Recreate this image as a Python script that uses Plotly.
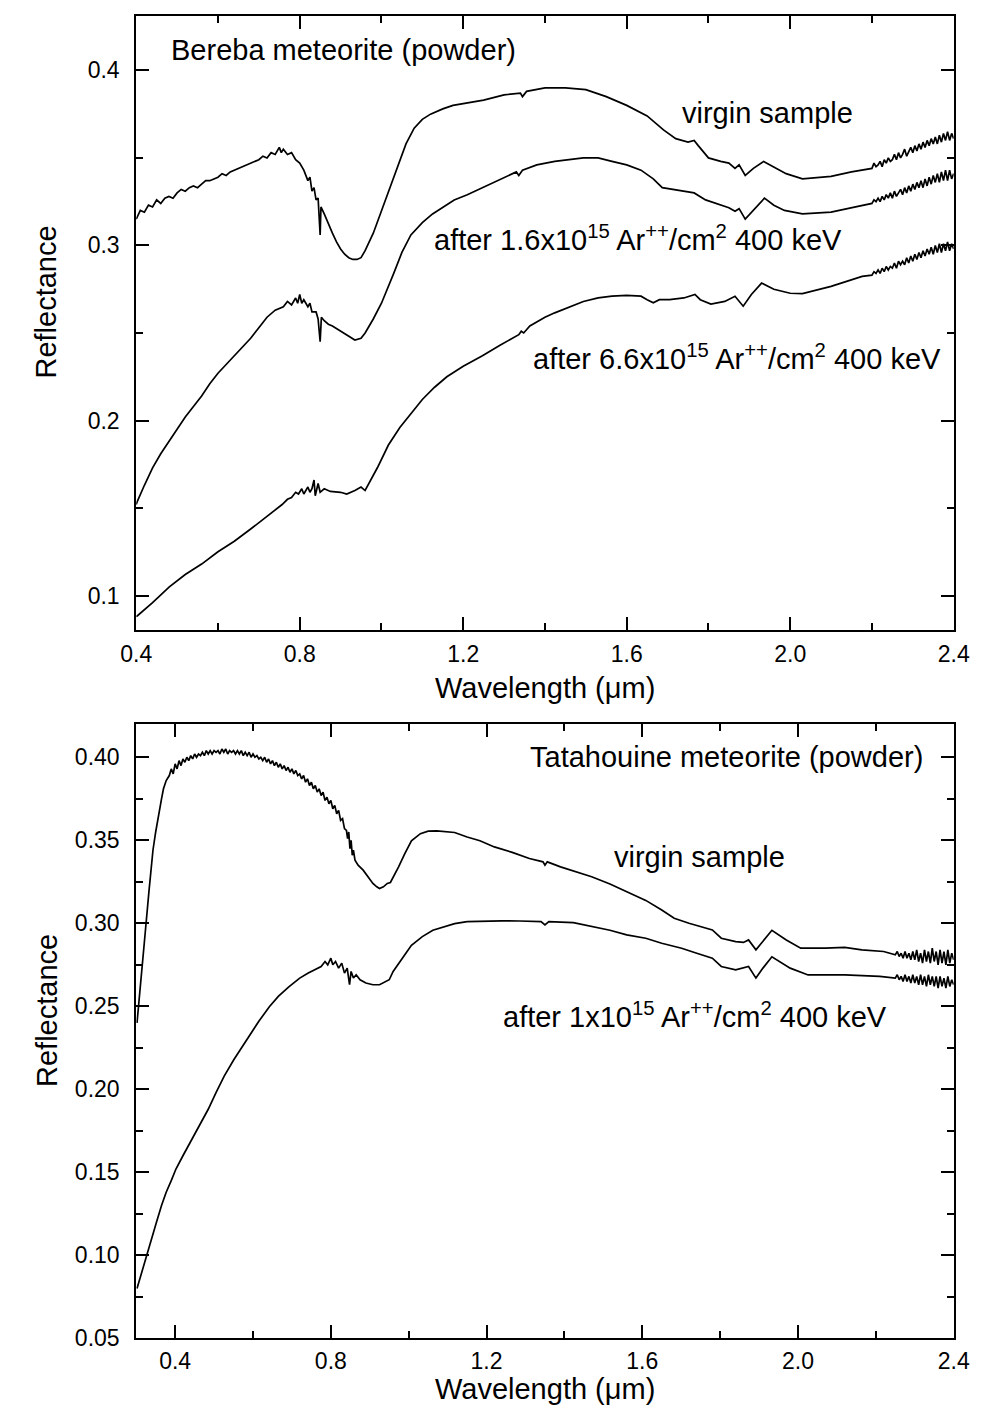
import plotly.graph_objects as go

# ---------------- Bereba meteorite (top panel) ----------------
bx_virgin = [0.400, 0.410, 0.420, 0.430, 0.440, 0.450, 0.460, 0.470, 0.480, 0.490, 0.500, 0.510, 0.520, 0.530,
             0.540, 0.550, 0.560, 0.570, 0.580, 0.590, 0.600, 0.610, 0.620, 0.630, 0.640, 0.650, 0.660, 0.670,
             0.680, 0.690, 0.700, 0.710, 0.720, 0.730, 0.740, 0.750, 0.755, 0.760, 0.770, 0.780,
             0.790, 0.800, 0.810, 0.820, 0.825, 0.830, 0.835, 0.840, 0.845, 0.850, 0.852, 0.860, 0.870, 0.880,
             0.890, 0.900, 0.910, 0.920, 0.930, 0.940, 0.950, 0.960, 0.980, 1.000, 1.020, 1.040, 1.060, 1.080,
             1.100, 1.120, 1.150, 1.175, 1.200, 1.250, 1.300, 1.340, 1.345, 1.355, 1.400, 1.450, 1.500, 1.550,
             1.600, 1.650, 1.690, 1.720, 1.750, 1.765, 1.775, 1.800, 1.830, 1.850, 1.865, 1.875, 1.890, 1.910,
             1.935, 1.960, 1.990, 2.030, 2.100, 2.150,
             2.200, 2.205, 2.210, 2.215, 2.220, 2.225, 2.230, 2.235, 2.240, 2.245, 2.250, 2.255, 2.260, 2.265,
             2.270, 2.275, 2.280, 2.285, 2.290, 2.295, 2.300, 2.305, 2.310, 2.315, 2.320, 2.325, 2.330, 2.335,
             2.340, 2.345, 2.350, 2.355, 2.360, 2.365, 2.370, 2.375, 2.380, 2.385, 2.390, 2.395, 2.400]
by_virgin = [0.315, 0.320, 0.319, 0.323, 0.322, 0.326, 0.324, 0.327, 0.328, 0.327, 0.330, 0.332, 0.331, 0.333,
             0.334, 0.333, 0.335, 0.337, 0.337, 0.338, 0.339, 0.341, 0.340, 0.342, 0.343, 0.344, 0.345, 0.346,
             0.347, 0.348, 0.349, 0.351, 0.350, 0.353, 0.352, 0.356, 0.353, 0.355, 0.352, 0.353,
             0.349, 0.347, 0.343, 0.337, 0.339, 0.331, 0.333, 0.326, 0.327, 0.306, 0.322, 0.318, 0.312, 0.307,
             0.302, 0.298, 0.295, 0.293, 0.292, 0.292, 0.293, 0.297, 0.307, 0.320, 0.333, 0.346, 0.358, 0.367,
             0.372, 0.375, 0.378, 0.380, 0.381, 0.383, 0.386, 0.387, 0.385, 0.388, 0.390, 0.390, 0.389, 0.385,
             0.380, 0.374, 0.366, 0.361, 0.359, 0.360, 0.357, 0.350, 0.348, 0.347, 0.344, 0.346, 0.340, 0.344,
             0.348, 0.345, 0.341, 0.338, 0.3395, 0.342,
             0.344, 0.347, 0.345, 0.346, 0.348, 0.345, 0.349, 0.347, 0.350, 0.348, 0.349, 0.352, 0.349, 0.353,
             0.350, 0.352, 0.355, 0.351, 0.354, 0.356, 0.353, 0.357, 0.354, 0.358, 0.355, 0.359, 0.356, 0.360,
             0.357, 0.361, 0.358, 0.362, 0.358, 0.363, 0.359, 0.364, 0.360, 0.365, 0.360, 0.364, 0.361]

bx_16 = [0.400, 0.403, 0.420, 0.440, 0.460, 0.480, 0.500, 0.520, 0.540, 0.560, 0.580, 0.600, 0.620, 0.640,
         0.660, 0.680, 0.700, 0.720, 0.740, 0.760, 0.770, 0.780, 0.790, 0.795, 0.800, 0.805, 0.810, 0.820,
         0.825, 0.830, 0.840, 0.845, 0.850, 0.853, 0.860, 0.870, 0.880, 0.900, 0.920, 0.935, 0.950, 0.960,
         0.980, 1.000, 1.030, 1.050, 1.072, 1.100, 1.125, 1.150, 1.178, 1.210, 1.247, 1.290, 1.330, 1.336,
         1.345, 1.380, 1.424, 1.494, 1.530, 1.564, 1.600, 1.635, 1.665, 1.687, 1.710, 1.740, 1.765, 1.793,
         1.828, 1.850, 1.865, 1.875, 1.890, 1.910, 1.937, 1.960, 1.986, 2.030, 2.100, 2.160,
         2.200, 2.205, 2.210, 2.215, 2.220, 2.225, 2.230, 2.235, 2.240, 2.245, 2.250, 2.255, 2.260, 2.265,
         2.270, 2.275, 2.280, 2.285, 2.290, 2.295, 2.300, 2.305, 2.310, 2.315, 2.320, 2.325, 2.330, 2.335,
         2.340, 2.345, 2.350, 2.355, 2.360, 2.365, 2.370, 2.375, 2.380, 2.385, 2.390, 2.395, 2.400]
by_16 = [0.152, 0.154, 0.163, 0.173, 0.181, 0.188, 0.195, 0.202, 0.208, 0.214, 0.221, 0.227, 0.232, 0.237,
         0.242, 0.247, 0.253, 0.259, 0.263, 0.265, 0.268, 0.266, 0.270, 0.267, 0.272, 0.267, 0.269, 0.265,
         0.267, 0.262, 0.262, 0.258, 0.245, 0.259, 0.257, 0.255, 0.254, 0.251, 0.248, 0.246, 0.247, 0.250,
         0.258, 0.267, 0.284, 0.296, 0.306, 0.313, 0.318, 0.322, 0.326, 0.329, 0.333, 0.338, 0.342, 0.340,
         0.343, 0.346, 0.348, 0.350, 0.350, 0.348, 0.346, 0.343, 0.338, 0.333, 0.332, 0.331, 0.330, 0.326,
         0.323, 0.3215, 0.3195, 0.321, 0.315, 0.320, 0.327, 0.323, 0.320, 0.318, 0.319, 0.322,
         0.324, 0.326, 0.325, 0.327, 0.325, 0.328, 0.326, 0.329, 0.327, 0.330, 0.327, 0.331, 0.328, 0.330,
         0.332, 0.329, 0.333, 0.330, 0.334, 0.331, 0.335, 0.332, 0.336, 0.333, 0.337, 0.333, 0.338, 0.334,
         0.339, 0.335, 0.340, 0.336, 0.341, 0.336, 0.342, 0.337, 0.343, 0.337, 0.343, 0.338, 0.341]

bx_66 = [0.400, 0.403, 0.440, 0.481, 0.520, 0.560, 0.600, 0.640, 0.680, 0.718, 0.740, 0.757, 0.770, 0.780,
         0.790, 0.797, 0.805, 0.810, 0.820, 0.825, 0.830, 0.835, 0.838, 0.845, 0.850, 0.860, 0.875, 0.900,
         0.915, 0.935, 0.950, 0.960, 0.990, 1.017, 1.045, 1.072, 1.100, 1.130, 1.160, 1.200, 1.247, 1.290,
         1.336, 1.342, 1.348, 1.363, 1.400, 1.424, 1.460, 1.494, 1.530, 1.564, 1.600, 1.635, 1.650, 1.665,
         1.680, 1.705, 1.740, 1.767, 1.780, 1.806, 1.840, 1.865, 1.885, 1.905, 1.930, 1.960, 2.000, 2.030,
         2.100, 2.176,
         2.200, 2.205, 2.210, 2.215, 2.220, 2.225, 2.230, 2.235, 2.240, 2.245, 2.250, 2.255, 2.260, 2.265,
         2.270, 2.275, 2.280, 2.285, 2.290, 2.295, 2.300, 2.305, 2.310, 2.315, 2.320, 2.325, 2.330, 2.335,
         2.340, 2.345, 2.350, 2.355, 2.360, 2.365, 2.370, 2.375, 2.380, 2.385, 2.390, 2.395, 2.400]
by_66 = [0.088, 0.0885, 0.096, 0.105, 0.112, 0.118, 0.125, 0.131, 0.138, 0.145, 0.149, 0.152, 0.155, 0.156,
         0.159, 0.158, 0.161, 0.158, 0.162, 0.159, 0.161, 0.166, 0.157, 0.164, 0.159, 0.161, 0.1595, 0.159,
         0.158, 0.160, 0.162, 0.160, 0.173, 0.186, 0.196, 0.204, 0.212, 0.219, 0.225, 0.231, 0.237, 0.243,
         0.249, 0.251, 0.250, 0.254, 0.259, 0.2615, 0.265, 0.268, 0.270, 0.271, 0.2715, 0.271, 0.269, 0.2672,
         0.269, 0.269, 0.270, 0.272, 0.269, 0.2665, 0.268, 0.271, 0.2653, 0.272, 0.2785, 0.275, 0.2727, 0.2725,
         0.2766, 0.2823,
         0.283, 0.285, 0.284, 0.286, 0.284, 0.287, 0.285, 0.288, 0.286, 0.288, 0.287, 0.290, 0.287, 0.291,
         0.289, 0.291, 0.289, 0.293, 0.290, 0.294, 0.291, 0.295, 0.292, 0.296, 0.293, 0.297, 0.294, 0.298,
         0.295, 0.299, 0.295, 0.300, 0.296, 0.301, 0.296, 0.301, 0.297, 0.302, 0.297, 0.301, 0.298]

# ---------------- Tatahouine meteorite (bottom panel) ----------------
tx_virgin = [0.302, 0.312, 0.323, 0.333, 0.343, 0.350, 0.355, 0.360, 0.365, 0.370, 0.377, 0.385, 0.390, 0.395,
             0.400, 0.405, 0.410, 0.415, 0.420, 0.425, 0.430, 0.435, 0.440, 0.445, 0.450, 0.455, 0.460, 0.465,
             0.470, 0.475, 0.480, 0.485, 0.490, 0.495, 0.500, 0.505, 0.510, 0.515, 0.520, 0.525, 0.530, 0.535,
             0.540, 0.545, 0.550, 0.555, 0.560, 0.565, 0.570, 0.575, 0.580, 0.585, 0.590, 0.595, 0.600, 0.605,
             0.610, 0.615, 0.620, 0.625, 0.630, 0.635, 0.640, 0.645, 0.650, 0.655, 0.660, 0.665, 0.670, 0.675,
             0.680, 0.685, 0.690, 0.695, 0.700, 0.705, 0.710, 0.715, 0.720, 0.725, 0.730, 0.735, 0.740, 0.745,
             0.750, 0.755, 0.760, 0.765, 0.770, 0.775, 0.780, 0.785, 0.790, 0.795, 0.800, 0.805, 0.810, 0.815,
             0.820, 0.825, 0.830, 0.835, 0.840, 0.843, 0.846, 0.849, 0.852, 0.855, 0.858, 0.862,
             0.870, 0.883, 0.895, 0.908, 0.918, 0.925, 0.935, 0.945, 0.953,
             0.963, 0.974, 0.990, 1.007, 1.030, 1.050, 1.072, 1.095, 1.118, 1.150, 1.183, 1.220, 1.266, 1.310,
             1.345, 1.350, 1.356, 1.390, 1.423, 1.470, 1.517, 1.560, 1.609, 1.650, 1.682, 1.720, 1.766, 1.780,
             1.803, 1.840, 1.860, 1.873, 1.892, 1.910, 1.933, 1.970, 2.007, 2.070, 2.120, 2.164, 2.220,
             2.250, 2.255, 2.260, 2.265, 2.270, 2.275, 2.280, 2.285, 2.290, 2.295, 2.300, 2.305, 2.310, 2.315,
             2.320, 2.325, 2.330, 2.335, 2.340, 2.345, 2.350, 2.355, 2.360, 2.365, 2.370, 2.375, 2.380, 2.385,
             2.390, 2.395, 2.400]
ty_virgin = [0.240, 0.268, 0.294, 0.320, 0.344, 0.355, 0.362, 0.370, 0.375, 0.381, 0.386, 0.389, 0.393, 0.390,
             0.396, 0.393, 0.398, 0.395, 0.399, 0.397, 0.400, 0.398, 0.401, 0.399, 0.402, 0.400, 0.402, 0.401,
             0.403, 0.401, 0.404, 0.402, 0.404, 0.402, 0.404, 0.403, 0.404, 0.402, 0.405, 0.403, 0.405, 0.402,
             0.404, 0.403, 0.404, 0.402, 0.404, 0.402, 0.404, 0.401, 0.403, 0.401, 0.403, 0.400, 0.402, 0.400,
             0.401, 0.399, 0.400, 0.398, 0.400, 0.397, 0.399, 0.396, 0.398, 0.395, 0.397, 0.394, 0.396, 0.393,
             0.395, 0.392, 0.394, 0.391, 0.393, 0.390, 0.392, 0.389, 0.390, 0.387, 0.389, 0.385, 0.387, 0.383,
             0.385, 0.381, 0.383, 0.379, 0.381, 0.377, 0.379, 0.374, 0.376, 0.372, 0.374, 0.369, 0.371, 0.366,
             0.368, 0.362, 0.363, 0.357, 0.356, 0.351, 0.355, 0.345, 0.350, 0.341, 0.344, 0.338,
             0.335, 0.332, 0.328, 0.324, 0.322, 0.321, 0.322, 0.324, 0.3246,
             0.329, 0.334, 0.342, 0.3497, 0.354, 0.3555, 0.3557, 0.355, 0.3547, 0.352, 0.3497, 0.346, 0.3427, 0.339,
             0.337, 0.335, 0.337, 0.334, 0.3317, 0.328, 0.3237, 0.319, 0.3138, 0.308, 0.303, 0.300, 0.297, 0.296,
             0.291, 0.289, 0.2885, 0.290, 0.284, 0.289, 0.2958, 0.290, 0.285, 0.285, 0.2855, 0.284, 0.283,
             0.281, 0.283, 0.280, 0.282, 0.279, 0.283, 0.279, 0.282, 0.278, 0.283, 0.278, 0.284, 0.277, 0.282,
             0.276, 0.284, 0.277, 0.283, 0.276, 0.285, 0.277, 0.283, 0.275, 0.284, 0.276, 0.283, 0.275, 0.284,
             0.276, 0.282, 0.278]

tx_1e15 = [0.302, 0.315, 0.327, 0.340, 0.352, 0.365, 0.377, 0.390, 0.402, 0.420, 0.443, 0.465, 0.485, 0.505,
           0.526, 0.551, 0.570, 0.592, 0.615, 0.642, 0.665, 0.692, 0.720, 0.742, 0.760, 0.775, 0.785, 0.792,
           0.800, 0.805, 0.812, 0.820, 0.828, 0.835, 0.842, 0.848, 0.852, 0.858, 0.865, 0.875, 0.890, 0.908,
           0.925, 0.941, 0.950, 0.960, 0.974, 0.990, 1.007, 1.035, 1.062, 1.090, 1.118, 1.150, 1.191, 1.240,
           1.285, 1.340, 1.350, 1.360, 1.423, 1.470, 1.517, 1.560, 1.609, 1.650, 1.701, 1.740, 1.766, 1.780,
           1.803, 1.840, 1.873, 1.892, 1.910, 1.933, 1.980, 2.026, 2.120, 2.210,
           2.250, 2.255, 2.260, 2.265, 2.270, 2.275, 2.280, 2.285, 2.290, 2.295, 2.300, 2.305, 2.310, 2.315,
           2.320, 2.325, 2.330, 2.335, 2.340, 2.345, 2.350, 2.355, 2.360, 2.365, 2.370, 2.375, 2.380, 2.385,
           2.390, 2.395, 2.400]
ty_1e15 = [0.080, 0.090, 0.100, 0.110, 0.120, 0.130, 0.138, 0.145, 0.152, 0.160, 0.170, 0.179, 0.188, 0.198,
           0.208, 0.218, 0.225, 0.233, 0.241, 0.2497, 0.256, 0.2617, 0.267, 0.270, 0.272, 0.274, 0.277, 0.275,
           0.279, 0.275, 0.277, 0.273, 0.276, 0.270, 0.273, 0.263, 0.271, 0.267, 0.269, 0.266, 0.264, 0.263,
           0.263, 0.2647, 0.266, 0.271, 0.276, 0.281, 0.2868, 0.292, 0.2958, 0.298, 0.2998, 0.301, 0.3014, 0.3015,
           0.3014, 0.301, 0.299, 0.301, 0.3004, 0.298, 0.2958, 0.293, 0.291, 0.288, 0.285, 0.282, 0.2798, 0.279,
           0.274, 0.272, 0.274, 0.267, 0.273, 0.2798, 0.273, 0.2689, 0.2689, 0.268,
           0.267, 0.269, 0.266, 0.268, 0.265, 0.269, 0.265, 0.268, 0.264, 0.269, 0.264, 0.268, 0.263, 0.269,
           0.263, 0.268, 0.262, 0.269, 0.263, 0.268, 0.262, 0.268, 0.261, 0.268, 0.262, 0.267, 0.261, 0.268,
           0.262, 0.266, 0.263]

# ---------------- text ----------------
top_title = "Bereba meteorite (powder)"
bottom_title = "Tatahouine meteorite (powder)"
label_virgin = "virgin sample"
label_16 = "after 1.6x10<sup>15</sup> Ar<sup>++</sup>/cm<sup>2</sup> 400 keV"
label_66 = "after 6.6x10<sup>15</sup> Ar<sup>++</sup>/cm<sup>2</sup> 400 keV"
label_1e15 = "after 1x10<sup>15</sup> Ar<sup>++</sup>/cm<sup>2</sup> 400 keV"
x_title = "Wavelength (\u03bcm)"
y_title = "Reflectance"

W, H = 982, 1416
FONT = "Liberation Sans, Arial, sans-serif"
LINE = dict(color="black", width=1.7)


def px(x):
    return x / W


def py(y):
    return 1 - y / H


fig = go.Figure()
fig.add_trace(go.Scatter(x=bx_virgin, y=by_virgin, mode="lines", line=LINE, xaxis="x", yaxis="y"))
fig.add_trace(go.Scatter(x=bx_16, y=by_16, mode="lines", line=LINE, xaxis="x", yaxis="y"))
fig.add_trace(go.Scatter(x=bx_66, y=by_66, mode="lines", line=LINE, xaxis="x", yaxis="y"))
fig.add_trace(go.Scatter(x=tx_virgin, y=ty_virgin, mode="lines", line=LINE, xaxis="x2", yaxis="y2"))
fig.add_trace(go.Scatter(x=tx_1e15, y=ty_1e15, mode="lines", line=LINE, xaxis="x2", yaxis="y2"))

axis_common = dict(
    showline=True, linecolor="black", linewidth=2, mirror="ticks",
    ticks="inside", ticklen=13, tickwidth=1.5, tickcolor="black",
    showgrid=False, zeroline=False,
    tickfont=dict(family=FONT, size=23, color="black"),
)
minor_x = dict(ticks="inside", ticklen=7, tickwidth=1.5, tickcolor="black", dtick=0.2, tick0=0.4)

xdom = [px(116), px(961)]
fig.update_layout(
    width=W, height=H,
    margin=dict(l=0, r=0, t=0, b=0),
    paper_bgcolor="white", plot_bgcolor="white",
    showlegend=False,
    xaxis=dict(domain=xdom, anchor="y", range=[0.4, 2.4], tick0=0.4, dtick=0.4, tickformat=".1f",
               ticklabelstandoff=2, minor=minor_x, **axis_common),
    yaxis=dict(domain=[py(628), py(8)], anchor="x", range=[0.0802, 0.4311], tick0=0, dtick=0.1,
               tickformat=".1f", ticklabelstandoff=10,
               minor=dict(ticks="inside", ticklen=7, tickwidth=1.5, tickcolor="black", dtick=0.05, tick0=0),
               **axis_common),
    xaxis2=dict(domain=xdom, anchor="y2", range=[0.3, 2.4], tick0=0.4, dtick=0.4, tickformat=".1f",
                ticklabelstandoff=1, minor=minor_x, **axis_common),
    yaxis2=dict(domain=[py(1342.7), py(722.7)], anchor="x2", range=[0.05, 0.42], tick0=0, dtick=0.05,
                tickformat=".2f", ticklabelstandoff=10,
                minor=dict(ticks="inside", ticklen=7, tickwidth=1.5, tickcolor="black", dtick=0.025, tick0=0),
                **axis_common),
)

BIG = dict(family=FONT, size=29, color="black")


def note(text, x, y, xanchor="left", angle=0):
    fig.add_annotation(text=text, x=px(x), y=py(y), xref="paper", yref="paper",
                       xanchor=xanchor, yanchor="middle", showarrow=False, font=BIG, textangle=angle)


note(top_title, 150, 42)
note(label_virgin, 678, 106)
note(label_16, 422, 232)
note(label_66, 524, 352)
note(x_title, 538.5, 686, xanchor="center")
note(y_title, 23, 297, xanchor="center", angle=-90)

note(bottom_title, 521, 756)
note(label_virgin, 608, 857)
note(label_1e15, 493, 1016)
note(x_title, 538.5, 1394, xanchor="center")
note(y_title, 23, 1012, xanchor="center", angle=-90)

fig.write_html("out.html")
